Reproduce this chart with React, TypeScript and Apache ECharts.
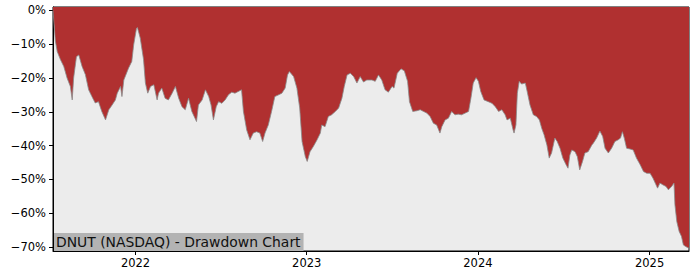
import React, { useEffect, useRef } from "react";
import * as echarts from "echarts";

const dates: string[] = [
  "2021-07-09","2021-07-14","2021-07-18","2021-07-25","2021-08-01","2021-08-08","2021-08-15","2021-08-19","2021-08-22","2021-08-28",
  "2021-09-02","2021-09-09","2021-09-16","2021-09-23","2021-09-30","2021-10-07","2021-10-14","2021-10-21","2021-10-29","2021-11-05",
  "2021-11-12","2021-11-19","2021-11-23","2021-11-30","2021-12-03","2021-12-07","2021-12-17","2021-12-24","2021-12-28","2022-01-03",
  "2022-01-05","2022-01-11","2022-01-18","2022-01-22","2022-01-27","2022-02-02","2022-02-09","2022-02-16","2022-02-19","2022-02-26",
  "2022-03-05","2022-03-12","2022-03-20","2022-03-27","2022-04-03","2022-04-10","2022-04-17","2022-04-24","2022-05-01","2022-05-11",
  "2022-05-15","2022-05-23","2022-05-30","2022-06-06","2022-06-11","2022-06-16","2022-06-22","2022-06-27","2022-07-04","2022-07-11",
  "2022-07-18","2022-07-25","2022-08-01","2022-08-15","2022-08-19","2022-08-26","2022-09-02","2022-09-09","2022-09-16","2022-09-23",
  "2022-09-29","2022-10-04","2022-10-11","2022-10-18","2022-10-25","2022-11-02","2022-11-09","2022-11-16","2022-11-21","2022-11-25",
  "2022-12-04","2022-12-11","2022-12-17","2022-12-22","2022-12-29","2023-01-02","2023-01-08","2023-01-15","2023-01-23","2023-01-30",
  "2023-02-02","2023-02-09","2023-02-16","2023-02-23","2023-03-03","2023-03-10","2023-03-17","2023-03-22","2023-03-28","2023-04-04",
  "2023-04-11","2023-04-18","2023-04-25","2023-05-02","2023-05-09","2023-05-20","2023-05-27","2023-06-03","2023-06-10","2023-06-17",
  "2023-06-24","2023-07-02","2023-07-06","2023-07-13","2023-07-21","2023-07-28","2023-08-04","2023-08-08","2023-08-15","2023-08-24",
  "2023-08-31","2023-09-07","2023-09-14","2023-09-21","2023-09-28","2023-10-05","2023-10-12","2023-10-16","2023-10-23","2023-10-30",
  "2023-11-06","2023-11-13","2023-11-20","2023-11-27","2023-12-05","2023-12-12","2023-12-17","2023-12-22","2023-12-28","2024-01-02",
  "2024-01-07","2024-01-14","2024-01-23","2024-01-31","2024-02-07","2024-02-14","2024-02-21","2024-02-28","2024-03-03","2024-03-10",
  "2024-03-16","2024-03-18","2024-03-22","2024-03-25","2024-03-29","2024-04-03","2024-04-11","2024-04-15","2024-04-21","2024-04-28",
  "2024-05-05","2024-05-11","2024-05-16","2024-05-21","2024-05-27","2024-06-01","2024-06-06","2024-06-13","2024-06-18","2024-06-24",
  "2024-06-30","2024-07-07","2024-07-11","2024-07-15","2024-07-19","2024-07-26","2024-07-31","2024-08-05","2024-08-11","2024-08-16",
  "2024-08-23","2024-08-31","2024-09-03","2024-09-10","2024-09-17","2024-09-23","2024-09-28","2024-10-05","2024-10-12","2024-10-19",
  "2024-10-26","2024-10-31","2024-11-04","2024-11-08","2024-11-13","2024-11-20","2024-11-27","2024-12-04","2024-12-12","2024-12-19",
  "2024-12-26","2025-01-02","2025-01-08","2025-01-13","2025-01-18","2025-01-23","2025-01-29","2025-02-05","2025-02-10","2025-02-17",
  "2025-02-22","2025-02-24","2025-02-28","2025-03-05","2025-03-10","2025-03-14","2025-03-19","2025-03-26"
];

const drawdown: number[] = [
  0,-9,-12.2,-14.6,-16.6,-20,-22.5,-26.5,-20,-13.7,
  -13.2,-16.6,-19,-23.5,-25.5,-27.4,-27,-29.9,-32.4,-29.4,
  -28,-26.5,-24.5,-22.5,-25.5,-20.6,-17.1,-15.1,-10.2,-5.3,
  -5.1,-8.2,-14.5,-21.5,-24.5,-22.5,-22,-26.5,-24.5,-23,
  -26,-26.5,-24.5,-22.5,-26,-28.5,-29.4,-26,-29.9,-32.9,
  -28,-26.5,-23.5,-25.5,-28,-32.4,-28.5,-27,-27.5,-26.5,
  -25,-24.2,-24.5,-23.5,-29.9,-35.4,-38.3,-36.3,-35.9,-36.3,
  -38.8,-36.3,-33.9,-29.9,-25.5,-25,-24.5,-23,-19.1,-18.1,
  -19.6,-23,-28.9,-38.8,-43.3,-44.7,-41.8,-40.3,-38.3,-36.3,
  -33.9,-34.4,-31.4,-30.9,-29.9,-28.9,-26,-22.5,-19.1,-18.6,
  -19.6,-21.5,-19.6,-21.2,-20.6,-20.6,-21,-19.1,-20.6,-23.5,
  -24.2,-22.5,-23,-18.6,-17.3,-17.9,-21,-27,-29.9,-29.7,
  -29.4,-29.9,-30.4,-31.4,-33.4,-33.9,-36.3,-34.4,-32.4,-31.9,
  -29.9,-30.9,-30.7,-30.9,-30.4,-29.9,-26,-21.5,-19.9,-21,
  -24,-26.5,-27,-27.5,-28.5,-29.9,-29.4,-30.9,-32.4,-31.9,
  -35.4,-36.3,-33.9,-24.5,-21,-21.8,-21.5,-24,-28,-30.9,
  -31.4,-32.4,-34.9,-36.8,-39.8,-43.7,-42.2,-37.8,-38.8,-40.8,
  -43.7,-45.7,-46.7,-42.8,-41.3,-41.8,-43.3,-47.2,-44.7,-42.2,
  -41.8,-39.8,-39.3,-37.8,-35.7,-37.3,-40.8,-42.2,-40.8,-38.8,
  -38.3,-37.8,-35.9,-37.8,-40.8,-41,-41.3,-43.7,-45.7,-47.7,
  -48.2,-48.2,-49.6,-51.1,-52.6,-51.1,-51.6,-52.1,-53.1,-52.1,
  -51.1,-57.5,-62.5,-65.4,-66.9,-69.4,-69.9,-70.4
];

const yTicks: number[] = [0, -10, -20, -30, -40, -50, -60, -70];
const xTickYears: string[] = ["2022-01-01", "2023-01-01", "2024-01-01", "2025-01-01"];
const axisStart = "2021-07-09";
const axisEnd = "2025-03-26";
const title = "DNUT (NASDAQ) - Drawdown Chart";

const FONT = "DejaVu Sans";

export default function App() {
  const ref = useRef<HTMLDivElement>(null);
  useEffect(() => {
    if (!ref.current) return;
    const chart = echarts.init(ref.current, undefined, { renderer: "svg" });
    const ts = (s: string) => new Date(s + "T00:00:00Z").getTime();
    const data = dates.map((d, i) => [ts(d), drawdown[i]]);
    const xTicks = xTickYears.map(ts);
    chart.setOption({
      animation: false,
      backgroundColor: "#ffffff",
      textStyle: { fontFamily: FONT },
      grid: {
        left: 53, right: 11, top: 7, bottom: 29,
        show: true, backgroundColor: "#ececec", borderColor: "#000", borderWidth: 1,
      },
      xAxis: {
        type: "value",
        min: ts(axisStart),
        max: ts(axisEnd),
        splitLine: { show: false },
        axisLine: { show: true, onZero: false, lineStyle: { color: "#000", width: 1 } },
        axisTick: {
          show: true, length: 4, lineStyle: { color: "#000" },
          customValues: xTicks,
        },
        axisLabel: {
          customValues: xTicks,
          formatter: (v: number) => String(new Date(v).getUTCFullYear()),
          color: "#000", fontSize: 11.5, fontFamily: FONT, margin: 6,
        },
      },
      yAxis: {
        type: "value",
        min: -71.2,
        max: 1.0,
        splitLine: { show: false },
        axisLine: { show: true, onZero: false, lineStyle: { color: "#000", width: 1 } },
        axisTick: {
          show: true, length: 4, lineStyle: { color: "#000" },
          customValues: yTicks,
        },
        axisLabel: {
          customValues: yTicks,
          formatter: (v: number) => (v < 0 ? "\u2212" : "") + Math.abs(v) + "%",
          color: "#000", fontSize: 11.5, fontFamily: FONT, margin: 7,
        },
      },
      series: [
        {
          type: "line",
          data,
          symbol: "none",
          smooth: false,
          lineStyle: { color: "#8a8a8a", width: 0.8 },
          areaStyle: { origin: "end", color: "#b03030", opacity: 1 },
        },
      ],
      graphic: [
        {
          type: "text",
          x: 54,
          y: 233,
          z: 100,
          style: {
            text: title,
            font: `13.9px "${FONT}"`,
            fill: "#111",
            backgroundColor: "#b3b3b3",
            padding: [1, 3, 1, 2],
            lineHeight: 16,
          },
        },
      ],
    });
    return () => chart.dispose();
  }, []);
  return (
    <div
      ref={ref}
      style={{ position: "fixed", left: 0, top: 0, width: 700, height: 280 }}
    />
  );
}
